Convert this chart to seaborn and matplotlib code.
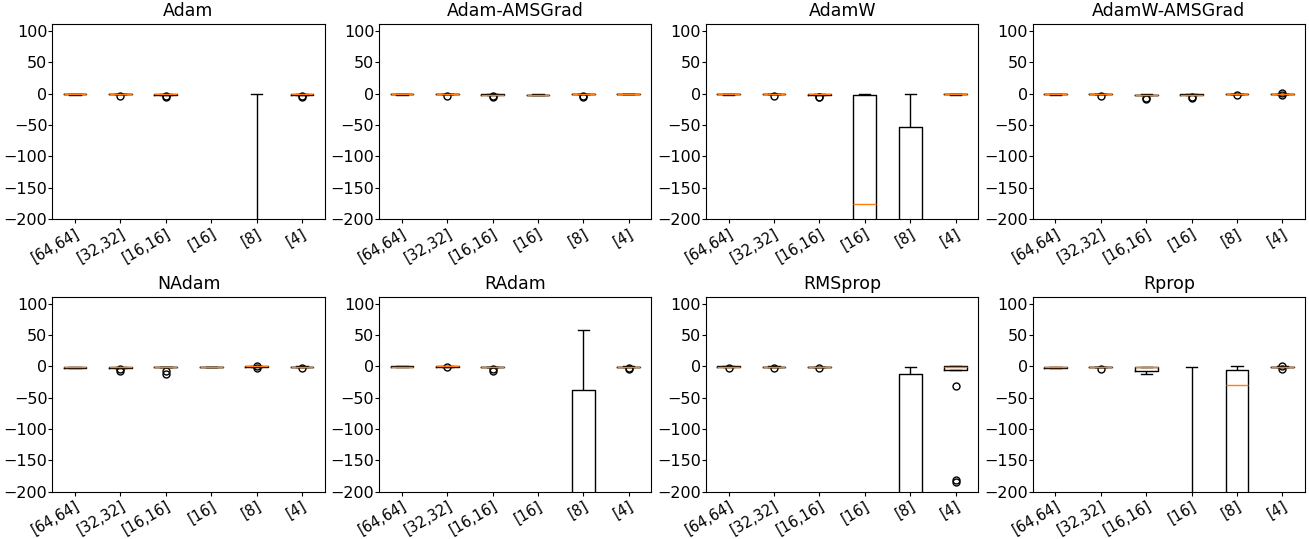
import numpy as np
import pandas as pd
import matplotlib
matplotlib.use('Agg')
import matplotlib.pyplot as plt
import seaborn as sns

# network architectures (hidden layers) on the x axis
archs = ['[64,64]', '[32,32]', '[16,16]', '[16]', '[8]', '[4]']
optimizers = ['Adam', 'Adam-AMSGrad', 'AdamW', 'AdamW-AMSGrad',
              'NAdam', 'RAdam', 'RMSprop', 'Rprop']

# final reward of each run, one list per architecture (same order as archs)
adam = [
    [-1.4, -1.2, -1.1, -1.0, -0.9, -0.9, -0.8, -0.7, -0.6, -0.5],
    [-3.1, -1.0, -0.7, -0.6, -0.5, -0.4, -0.4, -0.3, -0.2, -0.1],
    [-4.8, -3.6, -1.6, -1.3, -1.1, -0.9, -0.8, -0.6, -0.5, -0.3],
    [-1450, -1200, -980, -870, -760, -640, -530, -450, -380, -310],
    [-1300, -1100, -900, -760, -650, -520, -430, -330, -240, -0.6],
    [-5.5, -4.2, -1.5, -1.2, -1.0, -0.8, -0.7, -0.5, -0.4, -0.2],
]
adam_ams = [
    [-1.3, -1.1, -1.0, -0.9, -0.8, -0.8, -0.7, -0.6, -0.5, -0.4],
    [-3.0, -0.9, -0.6, -0.5, -0.4, -0.3, -0.3, -0.2, -0.1, 0.0],
    [-5.0, -4.0, -2.0, -1.8, -1.6, -1.4, -1.3, -1.1, -1.0, -0.8],
    [-2.4, -2.2, -2.0, -1.8, -1.6, -1.5, -1.3, -1.2, -1.0, -0.8],
    [-5.2, -3.8, -0.9, -0.7, -0.6, -0.5, -0.4, -0.3, -0.2, 0.3],
    [-0.9, -0.8, -0.7, -0.6, -0.5, -0.5, -0.4, -0.3, -0.3, -0.2],
]
adamw = [
    [-1.5, -1.3, -1.2, -1.1, -1.0, -1.0, -0.9, -0.8, -0.7, -0.6],
    [-3.0, -0.8, -0.5, -0.4, -0.3, -0.3, -0.2, -0.1, 0.0, 0.2],
    [-5.5, -4.5, -1.3, -1.0, -0.8, -0.6, -0.5, -0.4, -0.2, 0.0],
    [-900, -700, -520, -380, -190, -162, -8, 0.0, 0.1, 0.3],
    [-1100, -900, -700, -520, -400, -260, -110, -34, -12, -0.3],
    [-1.3, -1.2, -1.1, -1.0, -0.9, -0.9, -0.8, -0.7, -0.6, -0.5],
]
adamw_ams = [
    [-1.2, -1.1, -1.0, -0.9, -0.8, -0.8, -0.7, -0.6, -0.5, -0.4],
    [-3.2, -0.9, -0.6, -0.5, -0.4, -0.3, -0.3, -0.2, -0.1, 0.0],
    [-8.5, -6.0, -2.2, -1.9, -1.7, -1.5, -1.4, -1.2, -1.0, -0.8],
    [-6.0, -4.5, -1.8, -1.6, -1.4, -1.2, -1.1, -1.0, -0.8, -0.6],
    [-2.2, -0.5, -0.4, -0.3, -0.2, -0.2, -0.1, 0.0, 0.1, 0.2],
    [-2.5, -0.6, -0.4, -0.3, -0.2, -0.1, 0.0, 0.1, 0.2, 1.5],
]
nadam = [
    [-2.3, -2.1, -2.0, -1.8, -1.6, -1.5, -1.4, -1.2, -1.1, -1.0],
    [-7.0, -4.5, -1.9, -1.7, -1.5, -1.3, -1.2, -1.0, -0.9, -0.7],
    [-12.0, -7.5, -1.8, -1.6, -1.4, -1.3, -1.2, -1.0, -0.8, -0.6],
    [-1.3, -1.2, -1.1, -1.0, -0.9, -0.9, -0.8, -0.7, -0.6, -0.5],
    [-2.0, -0.6, -0.4, -0.3, -0.2, -0.1, 0.0, 0.1, 0.2, 1.2],
    [-3.2, -1.1, -0.9, -0.8, -0.7, -0.6, -0.5, -0.4, -0.3, -0.2],
]
radam = [
    [-0.6, -0.5, -0.4, -0.4, -0.3, -0.3, -0.2, -0.2, -0.1, 0.0],
    [-1.8, -0.6, -0.4, -0.3, -0.2, -0.2, -0.1, 0.0, 0.1, 0.2],
    [-7.0, -5.0, -1.6, -1.4, -1.2, -1.0, -0.9, -0.7, -0.6, -0.4],
    [-1500, -1300, -1100, -950, -800, -700, -600, -500, -400, -300],
    [-1000, -850, -700, -550, -420, -300, -130, -6, 20, 58],
    [-4.8, -3.2, -1.0, -0.8, -0.7, -0.6, -0.5, -0.4, -0.3, -0.2],
]
rmsprop = [
    [-2.6, -0.7, -0.5, -0.4, -0.3, -0.3, -0.2, -0.1, 0.0, 0.1],
    [-3.0, -0.9, -0.7, -0.6, -0.5, -0.5, -0.4, -0.3, -0.2, -0.1],
    [-3.0, -1.2, -1.0, -0.9, -0.8, -0.7, -0.6, -0.5, -0.4, -0.3],
    [-1600, -1400, -1200, -1000, -850, -700, -600, -500, -420, -350],
    [-1400, -1150, -900, -700, -500, -320, -40, -2.7, -2.0, -1.6],
    [-184, -182, -32, -5.5, -4.0, -0.8, -0.5, -0.3, -0.2, -0.1, 0.0, 0.0, 0.1, 0.2],
]
rprop = [
    [-3.4, -3.0, -2.8, -2.0, -1.2, -0.9, -0.7, -0.6, -0.5, -0.4],
    [-4.5, -1.6, -1.3, -1.2, -1.0, -0.9, -0.8, -0.7, -0.6, -0.5],
    [-12.0, -9.0, -7.5, -5.0, -2.0, -1.2, -1.0, -0.8, -0.6, -0.4],
    [-1500, -1250, -1000, -850, -700, -560, -430, -320, -250, -0.4],
    [-900, -700, -480, -300, -45, -13, -8, -5, -2, -0.2],
    [-4.0, -1.2, -0.9, -0.8, -0.7, -0.6, -0.5, -0.4, -0.2, 1.0],
]
results = [adam, adam_ams, adamw, adamw_ams, nadam, radam, rmsprop, rprop]

rows = []
for opt, runs in zip(optimizers, results):
    for arch, vals in zip(archs, runs):
        for v in vals:
            rows.append({'optimizer': opt, 'arch': arch, 'reward': v})
df = pd.DataFrame(rows)

fig, axes = plt.subplots(2, 4, figsize=(13.09, 5.39), dpi=100)
fig.subplots_adjust(left=0.04, right=0.997, top=0.955, bottom=0.088,
                    wspace=0.2, hspace=0.4)

for ax, opt in zip(axes.flat, optimizers):
    sub = df[df['optimizer'] == opt]
    sns.boxplot(data=sub, x='arch', y='reward', order=archs, ax=ax,
                fill=False, color='black', width=0.5, linewidth=1,
                medianprops={'color': '#ff7f0e'},
                flierprops={'marker': 'o', 'markersize': 5,
                            'markerfacecolor': 'none',
                            'markeredgecolor': 'black'})
    ax.set_ylim(-200, 111)
    ax.set_yticks([-200, -150, -100, -50, 0, 50, 100])
    ax.set_title(opt, fontsize=12.5)
    ax.set_xlabel('')
    ax.set_ylabel('')
    ax.tick_params(axis='y', labelsize=11.5, length=3, pad=0.5)
    ax.tick_params(axis='x', labelsize=10.5, length=3, pad=2)
    plt.setp(ax.get_xticklabels(), rotation=30, ha='right',
             rotation_mode='anchor')

plt.savefig('out.png')
